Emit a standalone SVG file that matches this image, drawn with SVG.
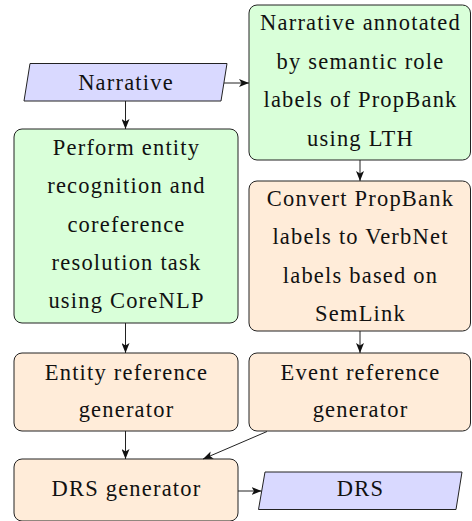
<svg xmlns="http://www.w3.org/2000/svg" width="472" height="521" viewBox="0 0 472 521">
<defs>
<marker id="ah" viewBox="0 0 10 8" refX="10" refY="4" markerWidth="10" markerHeight="8" markerUnits="userSpaceOnUse" orient="auto">
<path d="M0,0 L10,4 L0,8 L2.5,4 Z" fill="#111"/>
</marker>
</defs>
<style>
.t{font-size:22.5px;fill:#111;text-anchor:middle;letter-spacing:1.2px}
.g{fill:#d9ffd9;stroke:#222;stroke-width:1}
.o{fill:#ffecd9;stroke:#222;stroke-width:1}
.p{fill:#d9d9ff;stroke:#222;stroke-width:1}
.c{stroke:#222;stroke-width:1;fill:none;marker-end:url(#ah)}
</style>
<g id="narrative">
<polygon class="p" points="30,63.5 227,63.5 221,101 24,101"/>
<text class="t" font-family="Liberation Serif" x="126" y="90">Narrative</text>
</g>
<g id="srl">
<rect class="g" x="249" y="5" width="221.5" height="155" rx="8"/>
<text class="t" font-family="Liberation Serif" x="360.5" y="30">Narrative annotated</text>
<text class="t" font-family="Liberation Serif" x="360.5" y="68.5">by semantic role</text>
<text class="t" font-family="Liberation Serif" x="360.5" y="107">labels of PropBank</text>
<text class="t" font-family="Liberation Serif" x="360.5" y="145.5">using LTH</text>
</g>
<g id="corenlp">
<rect class="g" x="14" y="129" width="224" height="194" rx="8"/>
<text class="t" font-family="Liberation Serif" x="126.5" y="155">Perform entity</text>
<text class="t" font-family="Liberation Serif" x="126.5" y="193">recognition and</text>
<text class="t" font-family="Liberation Serif" x="126.5" y="232">coreference</text>
<text class="t" font-family="Liberation Serif" x="126.5" y="270">resolution task</text>
<text class="t" font-family="Liberation Serif" x="126.5" y="308">using CoreNLP</text>
</g>
<g id="convert">
<rect class="o" x="249" y="181" width="221.5" height="150" rx="8"/>
<text class="t" font-family="Liberation Serif" x="360.5" y="205.5">Convert PropBank</text>
<text class="t" font-family="Liberation Serif" x="360.5" y="244">labels to VerbNet</text>
<text class="t" font-family="Liberation Serif" x="360.5" y="282.5">labels based on</text>
<text class="t" font-family="Liberation Serif" x="360.5" y="321">SemLink</text>
</g>
<g id="entityref">
<rect class="o" x="14" y="353" width="224" height="78" rx="8"/>
<text class="t" font-family="Liberation Serif" x="126.5" y="380">Entity reference</text>
<text class="t" font-family="Liberation Serif" x="126.5" y="417">generator</text>
</g>
<g id="eventref">
<rect class="o" x="249" y="353" width="221.5" height="78" rx="8"/>
<text class="t" font-family="Liberation Serif" x="360.5" y="380">Event reference</text>
<text class="t" font-family="Liberation Serif" x="360.5" y="417">generator</text>
</g>
<g id="drsgen">
<rect class="o" x="14" y="459" width="224" height="62" rx="8"/>
<text class="t" font-family="Liberation Serif" x="126.5" y="496">DRS generator</text>
</g>
<g id="drs">
<polygon class="p" points="265,472 462,472 456,509.5 258.5,509.5"/>
<text class="t" font-family="Liberation Serif" x="360.5" y="496">DRS</text>
</g>
<g id="connectors">
<line class="c" x1="224" y1="83" x2="249" y2="83"/>
<line class="c" x1="125.5" y1="101" x2="125.5" y2="129"/>
<line class="c" x1="360" y1="160" x2="360" y2="181"/>
<line class="c" x1="125.5" y1="323" x2="125.5" y2="353"/>
<line class="c" x1="360" y1="331" x2="360" y2="353"/>
<line class="c" x1="125.5" y1="431" x2="125.5" y2="459"/>
<line class="c" x1="267" y1="431.5" x2="203" y2="459"/>
<line class="c" x1="238" y1="491" x2="261.5" y2="491"/>
</g>
</svg>
